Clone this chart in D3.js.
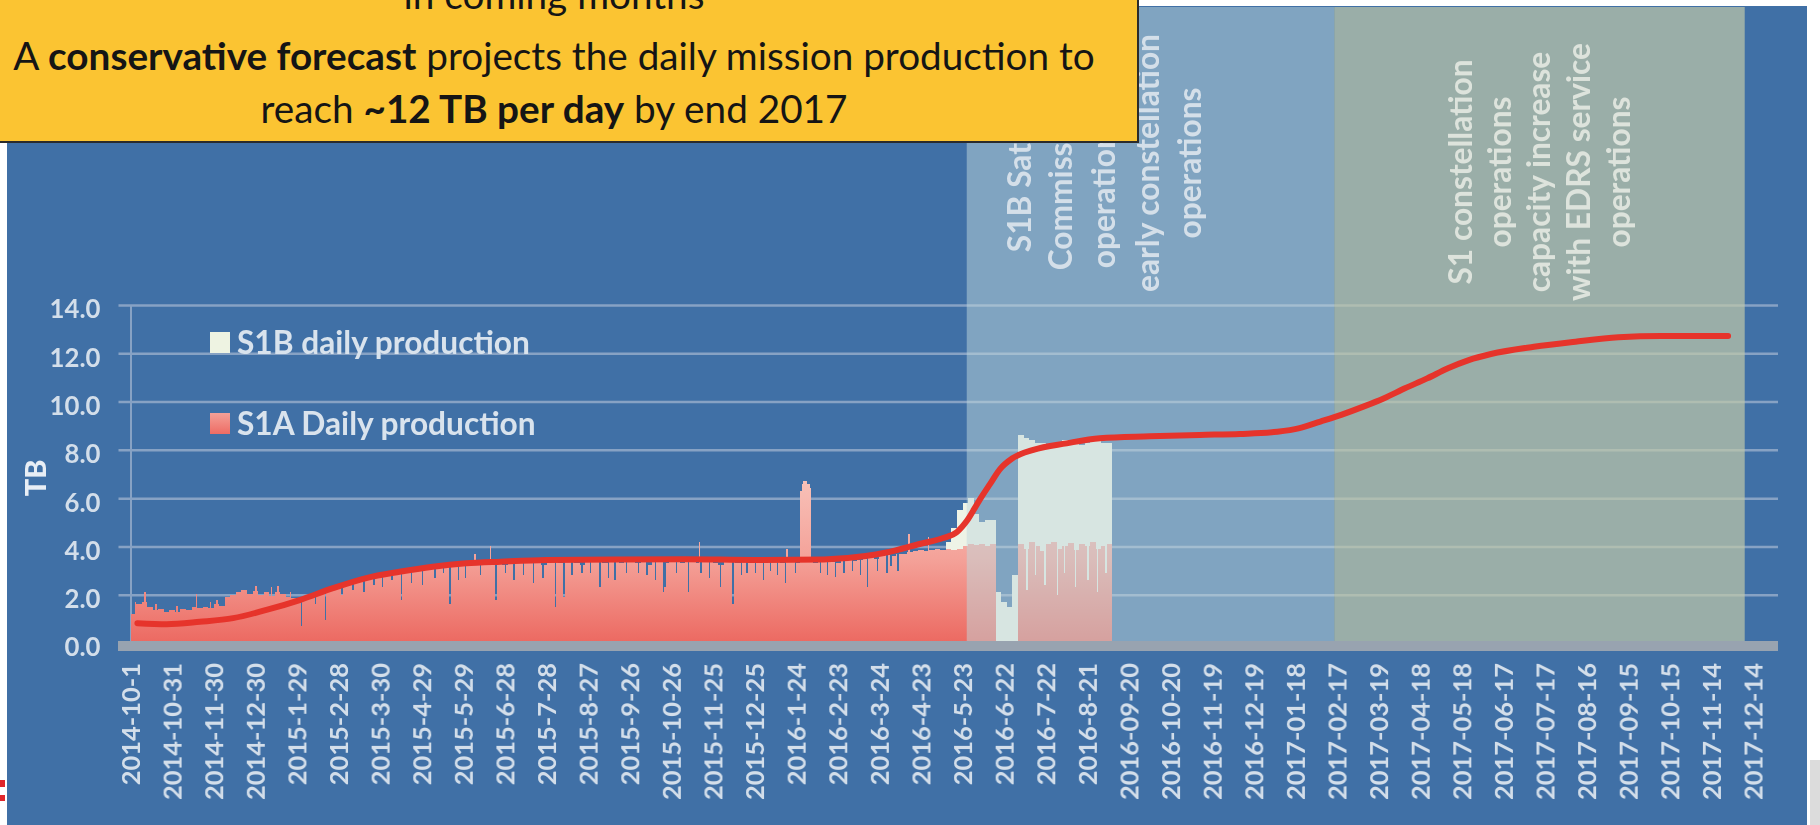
<!DOCTYPE html>
<html><head><meta charset="utf-8">
<script src="https://cdn.jsdelivr.net/npm/d3@7"></script>
<style>
html,body{margin:0;padding:0;background:#fff;overflow:hidden}
svg{display:block}
</style></head>
<body>
<svg id="chart" width="1820" height="825"></svg>
<script>
// ---------------- data ----------------
const startDate = "2014-10-01";
const endDate = "2018-01-01";
const xTickStepDays = 30;
const xTickLabels = ["2014-10-1","2014-10-31","2014-11-30","2014-12-30","2015-1-29","2015-2-28","2015-3-30","2015-4-29","2015-5-29","2015-6-28","2015-7-28","2015-8-27","2015-9-26","2015-10-26","2015-11-25","2015-12-25","2016-1-24","2016-2-23","2016-3-24","2016-4-23","2016-5-23","2016-6-22","2016-7-22","2016-8-21","2016-09-20","2016-10-20","2016-11-19","2016-12-19","2017-01-18","2017-02-17","2017-03-19","2017-04-18","2017-05-18","2017-06-17","2017-07-17","2017-08-16","2017-09-15","2017-10-15","2017-11-14","2017-12-14"];
const yTicks = [0,2,4,6,8,10,12,14];

// S1A daily production, TB, read in 4-day steps from 2014-10-01
const s1aBinDays = 4;
const s1aLevels = [
1.2,1.6,1.7,1.5,1.35,1.4,1.3,1.35,1.3,1.4,
1.35,1.5,1.45,1.5,1.45,1.6,1.55,1.9,2.0,2.1,
2.2,2.05,2.15,2.0,2.1,1.95,2.1,2.05,1.9,1.85,
1.75,1.85,1.95,2.05,2.15,2.2,2.3,2.35,2.45,2.5,
2.55,2.6,2.65,2.7,2.8,2.85,2.85,2.9,2.95,2.95,
3.0,3.05,3.1,3.05,3.15,3.1,3.2,3.15,3.2,3.25,
3.2,3.3,3.25,3.3,3.3,3.3,3.35,3.25,3.4,3.3,
3.35,3.3,3.4,3.35,3.25,3.35,3.4,3.3,3.35,3.4,
3.3,3.25,3.35,3.4,3.35,3.3,3.4,3.35,3.3,3.35,
3.4,3.3,3.35,3.25,3.4,3.35,3.3,3.4,3.35,3.3,
3.35,3.4,3.3,3.35,3.4,3.3,3.25,3.35,3.4,3.3,
3.35,3.3,3.4,3.35,3.3,3.35,3.4,3.3,3.35,3.4,
3.3,3.35,3.4,3.3,3.35,3.4,3.35,3.3,3.4,3.45,
3.4,3.45,3.5,3.55,3.5,3.6,3.65,3.6,3.7,3.7,
3.75,3.8,3.85,3.8,3.85,3.9,3.85,
3.9,3.85,3.9,4.0,4.1,4.05,4.1,4.0,4.1,
0,0,0,0,
4.1,3.9,4.2,4.0,3.8,4.1,4.2,3.9,4.0,4.15,3.85,4.1,4.0,4.2,3.9,4.0,4.1];
// single days that stand out from the 4-day level (day offset, TB)
const s1aSingleDays = [[3,1.7],[10,2.1],[18,1.6],[33,1.55],[47,2.05],[57,1.7],[62,1.8],[90,2.35],[101,2.3],[106,2.35],[115,2.1],
[123,0.7],[133,1.6],[140,0.95],[152,2.0],[160,2.2],[168,2.1],[175,2.4],[181,2.3],[188,2.6],[195,1.8],[202,2.5],[210,2.4],[219,2.7],[225,2.9],[230,1.6],[236,2.6],[241,2.7],[248,3.7],[252,2.8],[259,4.0],[263,1.8],[270,2.9],[276,2.6],[283,2.8],[290,2.5],[297,2.7],[306,1.5],[312,1.9],[318,2.8],[325,2.9],[331,2.9],[338,2.3],[344,2.7],[349,2.6],[357,2.9],[366,2.9],[372,2.8],[378,2.6],[384,2.1],[385,2.3],[393,2.9],[402,2.1],[410,4.2],[411,2.9],[417,2.7],[425,2.3],[434,1.6],[440,2.8],[444,2.9],[450,2.9],[456,2.6],[461,3.0],[466,2.8],[472,2.5],[473,3.9],[479,2.9],[483,6.3],[484,6.6],[485,6.7],[486,6.7],[487,6.7],[488,6.6],[489,6.6],[490,6.4],[497,2.9],[502,2.8],[508,2.75],[514,2.9],[520,3.0],[526,2.8],[531,2.3],[538,3.0],[545,2.9],[548,3.2],[553,3.0],[561,4.5],[575,4.4],
[646,2.2],[652,2.8],[659,2.4],[668,2.0],[673,2.9],[681,2.3],[690,2.6],[697,2.1],[703,2.9]];

// S1B daily production (stacked above S1A), TB, 4-day steps from day 588
const s1bStartDay = 588;
const s1bLevels = [0.3,0.9,1.6,1.8,1.9,1.3,0.9,1.1,1.0,2.1,1.7,1.5,2.8,4.5,4.6,4.2,4.3,4.5,4.1,4.1,4.4,4.4,4.05,4.5,4.1,4.3,4.2,4.5,4.3,4.2];

// conservative forecast (red line): day offset and TB
const forecastDays = [5,26,50,74,98,122,146,170,194,218,242,267,300,350,400,450,500,530,545,569,586,596,603,612,620,627,636,651,675,699,735,771,800,827,843,858,873,889,904,919,935,950,965,981,1012,1042,1073,1104,1152];
const forecastTB = [0.82,0.78,0.88,1.03,1.37,1.78,2.27,2.69,2.95,3.16,3.3,3.37,3.44,3.46,3.47,3.44,3.46,3.6,3.75,4.1,4.35,4.6,5.05,5.9,6.6,7.2,7.65,8.0,8.27,8.48,8.56,8.62,8.66,8.75,8.9,9.17,9.45,9.79,10.14,10.55,10.96,11.38,11.72,11.97,12.27,12.48,12.66,12.72,12.72];

const phaseStarts = ["2016-05-26","2017-02-15"];
const phaseEnds = ["2017-02-15","2017-12-08"];
const phaseLines = [
  ["S1B Satellite","Commissioning","operations and","early constellation","operations"],
  ["S1 constellation","operations","capacity increase","with EDRS service","operations"]
];
const legendLabels = ["S1B daily production","S1A Daily production"];
const yTitle = "TB";
const headline = [
  [["in coming months",false]],
  [["A ",false],["conservative forecast",true],[" projects the daily mission production to",false]],
  [["reach ",false],["~12 TB per day",true],[" by end 2017",false]]
];

// ---------------- drawing ----------------
const svg = d3.select("#chart");
const parseDay = d3.utcParse("%Y-%m-%d");
const t0 = parseDay(startDate);
const dayDate = d => new Date(t0.getTime() + d * 864e5);
const x = d3.scaleUtc().domain([t0, parseDay(endDate)]).range([130.5, 1778]);
const xd = d => x(dayDate(d));
const y = d3.scaleLinear().domain([0, 14]).range([643, 305]);

const defs = svg.append("defs");
const gA = defs.append("linearGradient").attr("id","gA").attr("gradientUnits","userSpaceOnUse")
  .attr("x1",0).attr("x2",0).attr("y1",y(0)).attr("y2",y(7));
gA.append("stop").attr("offset",0).attr("stop-color","#ec6961");
gA.append("stop").attr("offset",0.5).attr("stop-color","#f4a299");
gA.append("stop").attr("offset",1).attr("stop-color","#f8c3ba");
const gL = defs.append("linearGradient").attr("id","gL").attr("x1",0).attr("x2",0).attr("y1",1).attr("y2",0);
gL.append("stop").attr("offset",0).attr("stop-color","#ee6c64");
gL.append("stop").attr("offset",1).attr("stop-color","#f4a097");
const soft = defs.append("filter").attr("id","soft").attr("x","-5%").attr("y","-5%").attr("width","110%").attr("height","110%");
soft.append("feGaussianBlur").attr("stdDeviation",0.6);

svg.append("rect").attr("width",1820).attr("height",825).attr("fill","#ffffff");
svg.append("rect").attr("x",7).attr("y",6).attr("width",1800).attr("height",819).attr("fill","#4070a6");

// y axis with gridlines
const yAxis = svg.append("g").attr("transform","translate(130.5,0)")
  .call(d3.axisLeft(y).tickValues(yTicks).tickSizeInner(-(1778-130.5)).tickSizeOuter(0).tickPadding(30).tickFormat(d3.format(".1f")));
yAxis.select(".domain").attr("stroke","#87a2c4").attr("stroke-width",2);
yAxis.selectAll(".tick line").attr("x1",-12).attr("stroke","#87a2c4").attr("stroke-width",2.5);
yAxis.selectAll(".tick text").attr("fill","#d3deea").attr("font-family","Lato").attr("font-weight",700)
  .attr("font-size",25).attr("dy","0.5em").attr("filter","url(#soft)");

// daily series
const nA = s1aLevels.length * s1aBinDays;
const single = new Map(s1aSingleDays.map(d => [d[0], d[1]]));
const s1aDaily = d3.range(nA).map(d => single.has(d) ? single.get(d) : s1aLevels[Math.floor(d / s1aBinDays)]);
const s1bTop = d3.range(s1bLevels.length * s1aBinDays).map(i => {
  const d = s1bStartDay + i;
  return {d, v: s1aLevels[Math.floor(d / s1aBinDays)] + s1bLevels[Math.floor(i / s1aBinDays)]};
});
function runs(arr) { // merge consecutive equal days into one rect
  const out = [];
  arr.forEach(p => {
    const last = out[out.length - 1];
    if (last && last.v === p.v && last.d1 === p.d) last.d1 = p.d + 1;
    else out.push({d0: p.d, d1: p.d + 1, v: p.v});
  });
  return out;
}
const bars = svg.append("g").attr("shape-rendering","crispEdges");
bars.selectAll("rect.b").data(runs(s1bTop)).join("rect").attr("class","b")
  .attr("x", r => xd(r.d0)).attr("width", r => xd(r.d1) - xd(r.d0))
  .attr("y", r => y(r.v)).attr("height", r => y(0) - y(r.v)).attr("fill","#eef3e6");
bars.selectAll("rect.a").data(runs(s1aDaily.map((v, d) => ({d, v})))).join("rect").attr("class","a")
  .attr("x", r => xd(r.d0)).attr("width", r => xd(r.d1) - xd(r.d0))
  .attr("y", r => y(r.v)).attr("height", r => y(0) - y(r.v)).attr("fill","url(#gA)");

// phase overlays
const phaseFill = ["#c0d7dc","#c1c9a9"], phaseOp = [0.5, 0.7];
phaseStarts.forEach((s, i) => {
  svg.append("rect").attr("x", x(parseDay(s))).attr("y", 7)
    .attr("width", x(parseDay(phaseEnds[i])) - x(parseDay(s))).attr("height", y(0) - 7 - 2)
    .attr("fill", phaseFill[i]).attr("opacity", phaseOp[i]);
});

// axis band
svg.append("rect").attr("x",118).attr("y",641).attr("width",1778-118).attr("height",10).attr("fill","#98a3b0");

// phase texts
const phaseColX = [[1020,1061,1104,1148,1190],[1461,1500,1539,1579,1619]];
const phaseMidY = [163, 172];
const phaseColor = ["#d4dfe9","#dde3dc"];
phaseLines.forEach((lines, i) => {
  lines.forEach((t, j) => {
    svg.append("text").attr("class","ph")
      .attr("transform", `translate(${phaseColX[i][j]},${phaseMidY[i]}) rotate(-90)`)
      .attr("text-anchor","middle").attr("dy","0.35em")
      .attr("font-family","Lato").attr("font-weight",700).attr("font-size",30).attr("fill",phaseColor[i]).attr("filter","url(#soft)")
      .text(t);
  });
});

// forecast line
svg.append("path").datum(forecastDays.map((d, i) => [d, forecastTB[i]]))
  .attr("d", d3.line().x(d => xd(d[0])).y(d => y(d[1])).curve(d3.curveMonotoneX))
  .attr("fill","none").attr("stroke","#e6342b").attr("stroke-width",6).attr("stroke-linecap","round");

// x axis labels
const xAxis = svg.append("g").attr("transform","translate(0,651)")
  .call(d3.axisBottom(x).tickValues(xTickLabels.map((_, i) => dayDate(i * xTickStepDays))).tickFormat((_, i) => xTickLabels[i]).tickSize(0));
xAxis.select(".domain").remove();
xAxis.selectAll(".tick text").attr("transform","rotate(-90)").attr("text-anchor","end")
  .attr("x",-12).attr("y",0).attr("dy","0.36em")
  .attr("fill","#d3deea").attr("font-family","Lato").attr("font-weight",700).attr("font-size",26).attr("filter","url(#soft)");

// y title
svg.append("text").attr("transform","translate(36,478) rotate(-90)").attr("text-anchor","middle").attr("dy","0.36em")
  .attr("font-family","Lato").attr("font-weight",900).attr("font-size",29).attr("fill","#e8eef5").attr("filter","url(#soft)").text(yTitle);

// legend
const legY = [343, 424];
const legFill = ["#eef3e2","url(#gL)"];
legendLabels.forEach((t, i) => {
  svg.append("rect").attr("x",210).attr("y",legY[i]-11).attr("width",20).attr("height",21).attr("fill",legFill[i]);
  svg.append("text").attr("class","leg").attr("x",237).attr("y",legY[i]).attr("dy","0.36em")
    .attr("font-family","Lato").attr("font-weight",700).attr("font-size",28).attr("fill","#d9e3ed").attr("filter","url(#soft)").text(t);
});

// yellow headline box
svg.append("rect").attr("x",-3).attr("y",-3).attr("width",1141).attr("height",145)
  .attr("fill","#fbc432").attr("stroke","#2b2b2b").attr("stroke-width",2);
const hlBase = [9, 70, 123];
const hl = headline.map((segs, i) => {
  const t = svg.append("text").attr("x",554).attr("y",hlBase[i]).attr("text-anchor","middle")
    .attr("font-family","Lato").attr("font-size",32).attr("fill","#151515");
  segs.forEach(s => t.append("tspan").attr("font-weight", s[1] ? 700 : 400).text(s[0]));
  return t;
});

// size texts to the widths measured on the reference
function fit(sel, target) {
  const fs = parseFloat(sel.attr("font-size"));
  const w = sel.node().getComputedTextLength();
  return fs * target / w;
}
const hfs = fit(hl[1], 1082);
hl.forEach(t => t.attr("font-size", hfs));
const lfs = fit(svg.select("text.leg"), 293);
svg.selectAll("text.leg").attr("font-size", lfs);
const phs = svg.selectAll("text.ph").nodes();
const pfs = fit(d3.select(phs[3]), 258);
svg.selectAll("text.ph").attr("font-size", pfs);
const xl = xAxis.selectAll(".tick text");
const xfs = fit(d3.select(xl.nodes()[29]), 137);
xl.attr("font-size", xfs);
const yl = yAxis.selectAll(".tick text");
const yfs = fit(d3.select(yl.nodes()[7]), 51);
yl.attr("font-size", yfs);

// slide edge fragments
svg.append("rect").attr("x",0).attr("y",780).attr("width",5).attr("height",7).attr("fill","#e0262b");
svg.append("rect").attr("x",0).attr("y",795).attr("width",5).attr("height",6).attr("fill","#e0262b");
svg.append("rect").attr("x",1810).attr("y",760).attr("width",10).attr("height",65).attr("fill","#dcdcdc");
</script>
</body></html>
